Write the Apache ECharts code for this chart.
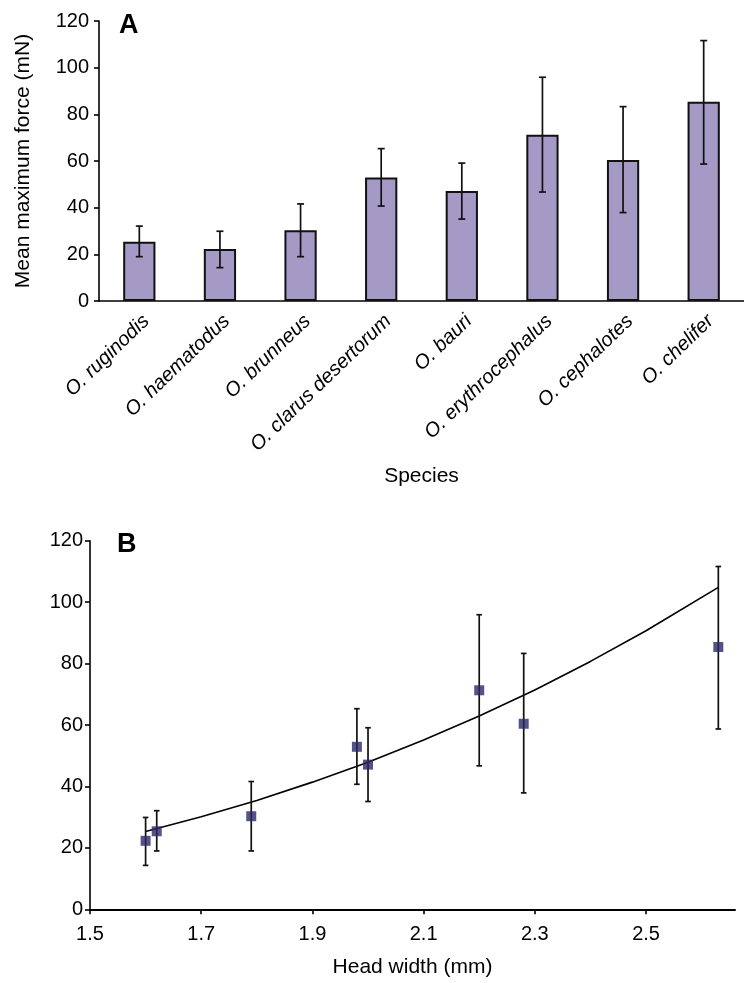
<!DOCTYPE html>
<html>
<head>
<meta charset="utf-8">
<script src="https://cdn.jsdelivr.net/npm/echarts@6/dist/echarts.min.js"></script>
<style>
html,body{margin:0;padding:0;background:#fff;}
#chart{width:744px;height:983px;}
</style>
</head>
<body>
<div id="chart"></div>
<script>
// ---- Data ----
const species = ['O. ruginodis','O. haematodus','O. brunneus','O. clarus desertorum','O. bauri','O. erythrocephalus','O. cephalotes','O. chelifer'];
const meanForce = [25.4, 22.3, 30.3, 52.9, 47.1, 71.3, 60.4, 85.4];
const errLow   = [19.0, 14.3, 19.0, 40.7, 35.1, 46.7, 37.9, 58.7];
const errHigh  = [32.1, 29.9, 41.6, 65.3, 59.1, 95.9, 83.3, 111.6];
const headWidth = [1.62, 1.60, 1.79, 1.98, 2.00, 2.20, 2.28, 2.63];
const fitX = [1.6, 1.7, 1.8, 1.9, 2.0, 2.1, 2.2, 2.3, 2.4, 2.5, 2.63];
const fitY = [25.3, 30.1, 35.4, 41.4, 47.9, 55.1, 62.9, 71.4, 80.7, 90.7, 104.8];
const yTicks = [0, 20, 40, 60, 80, 100, 120];
const xTicksB = [1.5, 1.7, 1.9, 2.1, 2.3, 2.5];

const FONT = 'Liberation Sans';
const chart = echarts.init(document.getElementById('chart'), null, {renderer:'canvas'});

function errRender(capW){
  return function(params, api){
    const x = api.value(0), lo = api.value(1), hi = api.value(2);
    const a = api.coord([x, lo]), b = api.coord([x, hi]);
    const st = {stroke:'#111', lineWidth:1.7};
    return {type:'group', children:[
      {type:'line', shape:{x1:a[0], y1:a[1], x2:b[0], y2:b[1]}, style:st},
      {type:'line', shape:{x1:a[0]-capW, y1:a[1], x2:a[0]+capW, y2:a[1]}, style:st},
      {type:'line', shape:{x1:b[0]-capW, y1:b[1], x2:b[0]+capW, y2:b[1]}, style:st}
    ]};
  };
}

const axisLine = {lineStyle:{color:'#000', width:1.6}};
const axisTick = {inside:false, length:5, lineStyle:{color:'#000', width:1.6}};

const option = {
  animation:false,
  backgroundColor:'#fff',
  textStyle:{fontFamily:FONT},
  grid:[
    {left:99, top:21, width:649, height:280},
    {left:90, top:540.7, width:645, height:368.6}
  ],
  xAxis:[
    {gridIndex:0, type:'category', data:species, boundaryGap:true,
     axisLine:axisLine, axisTick:Object.assign({alignWithLabel:false}, axisTick),
     axisLabel:{rotate:44, margin:10, interval:0, fontSize:20, fontStyle:'italic', color:'#000', fontFamily:FONT, verticalAlign:'top'},
     name:'Species', nameLocation:'middle', nameGap:165, nameTextStyle:{fontSize:21, color:'#000', fontFamily:FONT},
     splitLine:{show:false}},
    {gridIndex:1, type:'value', min:1.5, max:2.66,
     axisLine:{lineStyle:{color:'#000', width:2}}, axisTick:Object.assign({customValues:xTicksB}, axisTick),
     axisLabel:{customValues:xTicksB, margin:15, fontSize:20, color:'#000', fontFamily:FONT, formatter:v=>v.toFixed(1)},
     name:'Head width (mm)', nameLocation:'middle', nameGap:47, nameTextStyle:{fontSize:21, color:'#000', fontFamily:FONT},
     splitLine:{show:false}}
  ],
  yAxis:[
    {gridIndex:0, type:'value', min:0, max:120, interval:20,
     axisLine:Object.assign({show:true}, axisLine), axisTick:Object.assign({show:true}, axisTick),
     axisLabel:{margin:10, fontSize:20, color:'#000', fontFamily:FONT},
     name:'Mean maximum force (mN)', nameLocation:'middle', nameGap:65, nameTextStyle:{fontSize:21, color:'#000', fontFamily:FONT},
     splitLine:{show:false}},
    {gridIndex:1, type:'value', min:0, max:120, interval:20,
     axisLine:Object.assign({show:true}, axisLine), axisTick:Object.assign({show:true}, axisTick),
     axisLabel:{margin:7, fontSize:20, color:'#000', fontFamily:FONT},
     splitLine:{show:false}}
  ],
  graphic:[
    {type:'text', left:119, top:12, style:{text:'A', font:'bold 27px "Liberation Sans"', fill:'#000'}},
    {type:'text', left:117, top:531, style:{text:'B', font:'bold 27px "Liberation Sans"', fill:'#000'}}
  ],
  series:[
    {type:'bar', xAxisIndex:0, yAxisIndex:0, data:meanForce, barWidth:'40%',
     itemStyle:{color:'#a599c6', borderColor:'#111', borderWidth:2}},
    {type:'custom', xAxisIndex:0, yAxisIndex:0, renderItem:errRender(3.5),
     data:species.map((s,i)=>[i, errLow[i], errHigh[i]]), z:5},
    {type:'line', xAxisIndex:1, yAxisIndex:1, data:fitX.map((x,i)=>[x, fitY[i]]),
     showSymbol:false, lineStyle:{color:'#000', width:1.6}, z:3},
    {type:'custom', xAxisIndex:1, yAxisIndex:1, renderItem:errRender(2.8),
     data:headWidth.map((x,i)=>[x, errLow[i], errHigh[i]]), z:4},
    {type:'scatter', xAxisIndex:1, yAxisIndex:1, data:headWidth.map((x,i)=>[x, meanForce[i]]),
     symbol:'rect', symbolSize:10, itemStyle:{color:'#2b2868'}, z:6}
  ]
};
chart.setOption(option);
</script>
</body>
</html>
